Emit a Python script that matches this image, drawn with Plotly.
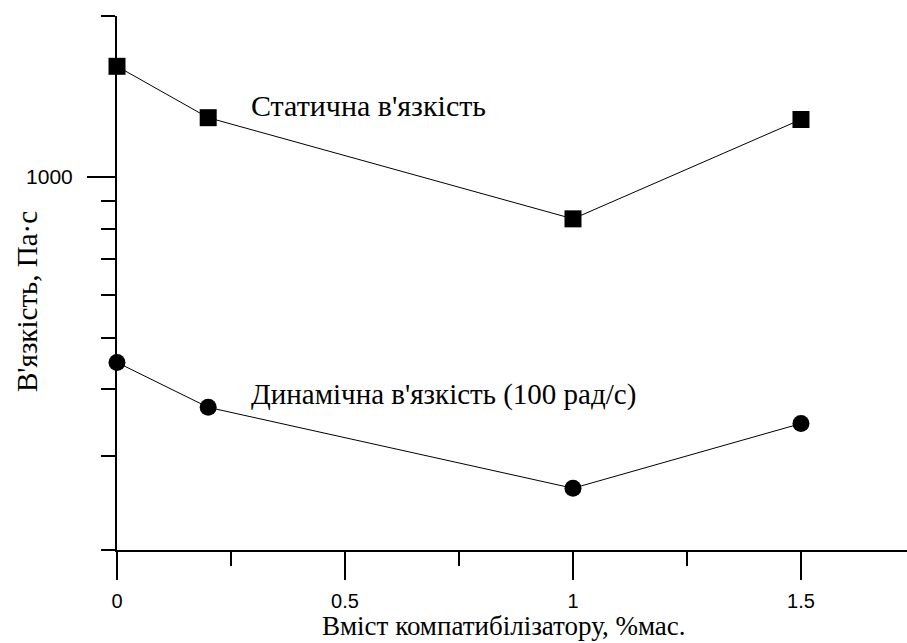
import plotly.graph_objects as go

x_vals = [0, 0.2, 1, 1.5]
static_visc = [1610, 1290, 834, 1280]
dynamic_visc = [449, 370, 261, 345]

x_major = [0, 0.5, 1, 1.5]
x_major_text = ["0", "0.5", "1", "1.5"]
x_minor = [0.25, 0.75, 1.25]
y_major = [1000]
y_major_text = ["1000"]
y_minor = [200, 300, 400, 500, 600, 700, 800, 900, 2000]

label_static = "Статична в'язкість"
label_dynamic = "Динамічна в'язкість (100 рад/с)"
x_title = "Вміст компатибілізатору, %мас."
y_title = "В'язкість, Па·с"

serif = "Liberation Serif, Times New Roman, serif"
sans = "Liberation Sans, Arial, sans-serif"

W, H = 907, 643
L, R, T, B = 117, 0, 16, 93
pw, ph = W - L - R, H - T - B


def px(xp):
    return (xp - L) / pw


def py(yp):
    return (H - B - yp) / ph


fig = go.Figure()
fig.add_trace(go.Scatter(x=x_vals, y=static_visc, mode="lines+markers",
                         line=dict(color="black", width=1),
                         marker=dict(symbol="square", size=17, color="black"),
                         cliponaxis=False, showlegend=False))
fig.add_trace(go.Scatter(x=x_vals, y=dynamic_visc, mode="lines+markers",
                         line=dict(color="black", width=1),
                         marker=dict(symbol="circle", size=17, color="black"),
                         cliponaxis=False, showlegend=False))

fig.update_layout(
    width=W, height=H,
    margin=dict(l=L, r=R, t=T, b=B),
    paper_bgcolor="white", plot_bgcolor="white",
    xaxis=dict(range=[0, 1.7325], showgrid=False, zeroline=False,
               showline=True, linecolor="black", linewidth=2,
               tickmode="array", tickvals=x_major, ticktext=x_major_text,
               ticks="outside", ticklen=28, tickwidth=2, tickcolor="black",
               tickfont=dict(family=sans, size=20, color="black"),
               ticklabelstandoff=4,
               minor=dict(tickvals=x_minor, ticks="outside", ticklen=14,
                          tickwidth=2, tickcolor="black", showgrid=False)),
    yaxis=dict(type="log", range=[2.30103, 3.30103], showgrid=False, zeroline=False,
               showline=True, linecolor="black", linewidth=2,
               tickmode="array", tickvals=y_major, ticktext=y_major_text,
               ticks="outside", ticklen=28, tickwidth=2, tickcolor="black",
               tickfont=dict(family=sans, size=21, color="black"),
               ticklabelstandoff=10,
               minor=dict(tickvals=y_minor, ticks="outside", ticklen=14,
                          tickwidth=2, tickcolor="black", showgrid=False)),
)

fig.add_annotation(x=px(249), y=py(106), xref="paper", yref="paper", text=label_static,
                   showarrow=False, xanchor="left", yanchor="middle",
                   font=dict(family=serif, size=30, color="black"))
fig.add_annotation(x=px(249), y=py(394), xref="paper", yref="paper", text=label_dynamic,
                   showarrow=False, xanchor="left", yanchor="middle",
                   font=dict(family=serif, size=29, color="black"))
fig.add_annotation(x=px(504), y=py(626), xref="paper", yref="paper", text=x_title,
                   showarrow=False, xanchor="center", yanchor="middle",
                   font=dict(family=serif, size=27, color="black"))
fig.add_annotation(x=px(27), y=py(302), xref="paper", yref="paper", text=y_title,
                   showarrow=False, xanchor="center", yanchor="middle", textangle=-90,
                   font=dict(family=serif, size=29, color="black"))

fig.write_html("out.html", config={"displayModeBar": False},
               post_script="document.body.style.margin='0';document.body.style.overflow='hidden';")
